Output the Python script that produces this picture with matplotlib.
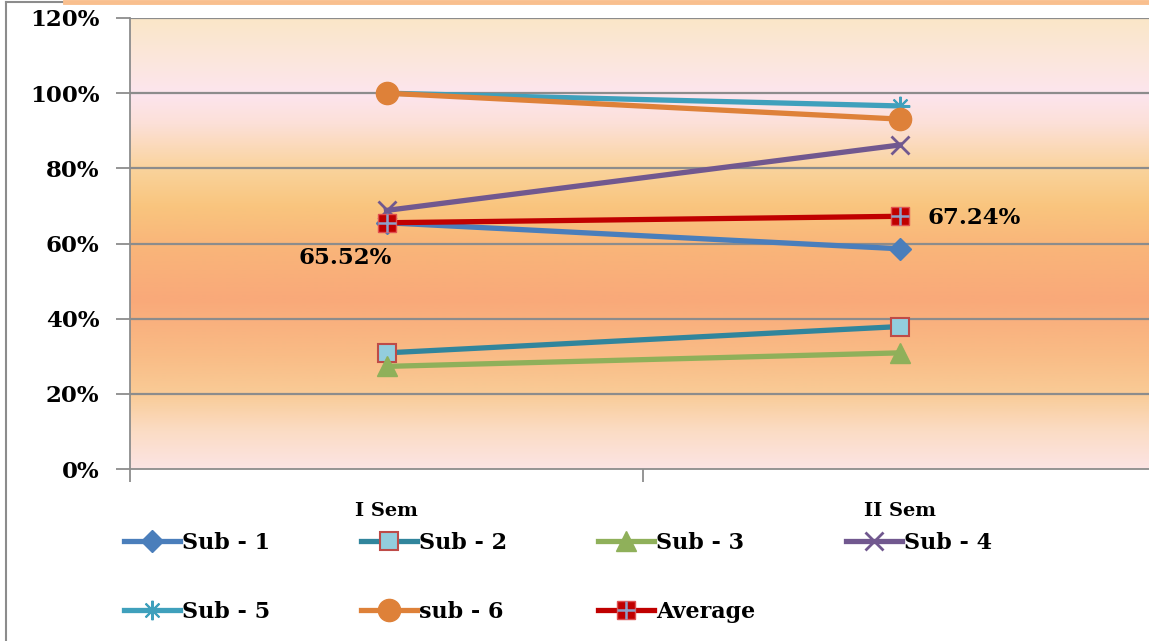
import matplotlib
matplotlib.use("Agg")
import matplotlib.pyplot as plt
import numpy as np
from matplotlib.colors import LinearSegmentedColormap
from matplotlib.lines import Line2D
from matplotlib.legend_handler import HandlerTuple

categories = ["I Sem", "II Sem"]
sub1 = [65.52, 58.6]
sub2 = [30.9, 37.9]
sub3 = [27.3, 30.9]
sub4 = [68.8, 86.2]
sub5 = [100.0, 96.6]
sub6 = [100.0, 93.1]
average = [65.52, 67.24]
yticks = [0, 20, 40, 60, 80, 100, 120]

W, H = 1149, 641
fig = plt.figure(figsize=(W / 100, H / 100), dpi=100)
fig.patch.set_facecolor("white")
serif = ["DejaVu Serif"]

ax = fig.add_axes([130 / W, 1 - 469 / H, (1156 - 130) / W, (469 - 18) / H])
ax.set_xlim(0, 2)
ax.set_ylim(0, 120)

# background gradient
stops = [(0.0, "#FCE4E4"), (10 / 120, "#FBDCC4"), (20 / 120, "#F9CB96"),
         (30 / 120, "#F9BC86"), (45 / 120, "#F9A979"), (60 / 120, "#F9B67A"),
         (70 / 120, "#F9C57E"), (80 / 120, "#FAD39C"), (92 / 120, "#FCE0D8"),
         (100 / 120, "#FDE5EE"), (106 / 120, "#FCE6E2"), (1.0, "#FAE7C8")]
cmap = LinearSegmentedColormap.from_list("bg", stops)
grad = np.linspace(0, 1, 512).reshape(-1, 1)
ax.imshow(grad, extent=[0, 2, 0, 120], origin="lower", aspect="auto",
          cmap=cmap, zorder=0, interpolation="bilinear")

for yv in yticks[1:]:
    ax.axhline(yv, color="#8C8C8C", lw=1.6, zorder=1)

xs = [0.5, 1.5]
lw = 3.8
ax.plot(xs, sub1, color="#4A7EBB", lw=lw, marker="D", ms=11, mfc="#4A7EBB", mec="#4A7EBB", zorder=3)
ax.plot(xs, sub2, color="#31859C", lw=lw, marker="s", ms=13, mfc="#93CDDD", mec="#BE4B48", mew=1.5, zorder=3)
ax.plot(xs, sub3, color="#8FB05A", lw=lw, marker="^", ms=14, mfc="#8FB05A", mec="#8FB05A", zorder=3)
ax.plot(xs, sub4, color="#71588F", lw=lw, marker="x", ms=13, mec="#71588F", mew=2, zorder=3)
ax.plot(xs, sub5, color="#3FA0BC", lw=lw, marker=(8, 2, 0), ms=14, mec="#3FA0BC", mew=1.5, zorder=3)
ax.plot(xs, sub6, color="#DE8139", lw=lw, marker="o", ms=16, mfc="#DE8139", mec="#DE8139", zorder=4)
ax.plot(xs, average, color="#C00000", lw=lw, marker="s", ms=13, mfc="#C00000", mec="#E05050", mew=1, zorder=5)
ax.plot(xs, average, ls="none", marker="+", ms=13, mec="#8DA0C8", mew=1.8, zorder=6)

ax.text(xs[0] - 0.08, average[0] - 9.5, f"{average[0]:.2f}%", ha="center", va="center",
        fontsize=16.5, fontweight="bold", family=serif, zorder=7)
ax.text(xs[1] + 0.145, average[1] - 0.5, f"{average[1]:.2f}%", ha="center", va="center",
        fontsize=16.5, fontweight="bold", family=serif, zorder=7)

ax.set_yticks(yticks)
ax.set_yticklabels([f"{v}%" for v in yticks], fontsize=16.5, fontweight="bold", family=serif)
ax.set_xticks([0, 1, 2])
ax.set_xticklabels([])
ax.tick_params(axis="y", length=10, width=1.3, color="#8C8C8C", pad=12, direction="out")
ax.tick_params(axis="x", length=9, width=1.3, color="#8C8C8C", direction="out")
for xi, lab in zip(xs, categories):
    ax.text(xi, -11.3, lab, ha="center", va="center", fontsize=14, fontweight="bold", family=serif)

for s in ["top", "right"]:
    ax.spines[s].set_visible(False)
for s in ["left", "bottom"]:
    ax.spines[s].set_color("#8C8C8C")
    ax.spines[s].set_linewidth(1.3)

# legend
def mk(color, marker, **kw):
    return Line2D([], [], color=color, lw=lw, marker=marker, **kw)

h1 = mk("#4A7EBB", "D", ms=11, mfc="#4A7EBB", mec="#4A7EBB")
h2 = mk("#31859C", "s", ms=13, mfc="#93CDDD", mec="#BE4B48", mew=1.5)
h3 = mk("#8FB05A", "^", ms=14, mfc="#8FB05A", mec="#8FB05A")
h4 = mk("#71588F", "x", ms=13, mec="#71588F", mew=2)
h5 = mk("#3FA0BC", (8, 2, 0), ms=14, mec="#3FA0BC", mew=1.5)
h6 = mk("#DE8139", "o", ms=16, mfc="#DE8139", mec="#DE8139")
ha1 = mk("#C00000", "s", ms=13, mfc="#C00000", mec="#E05050", mew=1)
ha2 = Line2D([], [], ls="none", marker="+", ms=13, mec="#8DA0C8", mew=1.8)
labels = ["Sub - 1", "Sub - 5", "Sub - 2", "sub - 6", "Sub - 3", "Average", "Sub - 4"]
handles = [h1, h5, h2, h6, h3, (ha1, ha2), h4]
fig.legend(handles, labels, ncol=4, loc="upper left", bbox_to_anchor=(104 / W, 1 - 512 / H),
           frameon=False, handlelength=2.5, handletextpad=0.1, columnspacing=4.1,
           labelspacing=2.1, prop={"family": serif, "weight": "bold", "size": 16},
           handler_map={tuple: HandlerTuple(ndivide=1, pad=0)})

# outer frame remnants
fig.add_artist(Line2D([6 / W, 6 / W], [0, 1 - 2 / H], color="#8C8C8C", lw=1.5))
fig.add_artist(Line2D([6 / W, 63 / W], [1 - 2 / H, 1 - 2 / H], color="#8C8C8C", lw=1.5))
fig.add_artist(Line2D([65 / W, 1], [1 - 1.5 / H, 1 - 1.5 / H], color="#F9BF8E", lw=3.5))

fig.savefig("out.png", dpi=100, facecolor="white")
